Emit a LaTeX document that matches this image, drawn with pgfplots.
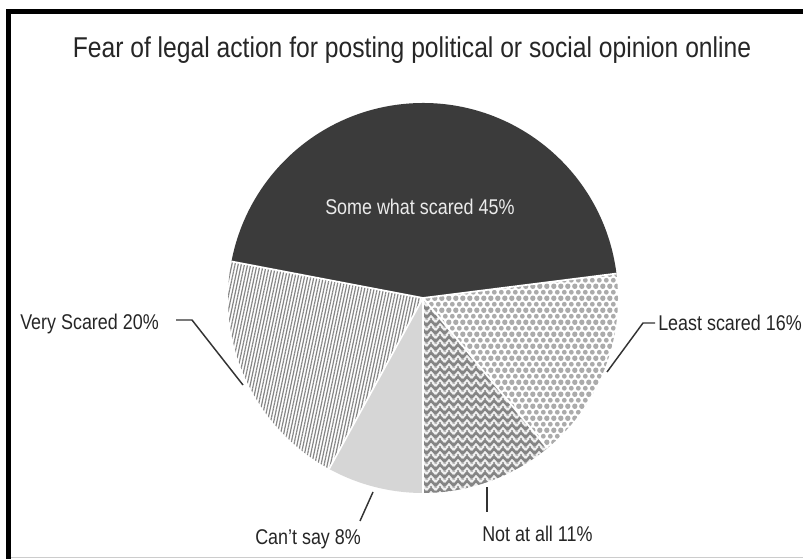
\documentclass[border=0pt]{standalone}
\usepackage{pgfplots}
\pgfplotsset{compat=1.18}
\usepackage{pgfplotstable}
\usetikzlibrary{patterns,patterns.meta}
\usepackage{fontspec}
\setmainfont{Liberation Sans}[FakeStretch=0.84]
\newfontfamily\titlefont{Liberation Sans}[FakeStretch=0.86]

\definecolor{darkslice}{HTML}{3B3B3B}
\definecolor{cantsay}{HTML}{D6D6D6}
\definecolor{hatchc}{HTML}{858585}
\definecolor{zigc}{HTML}{858585}
\definecolor{dotc}{HTML}{ABABAB}
\definecolor{txt}{HTML}{262626}
\definecolor{leader}{HTML}{333333}

\pgfdeclarepattern{
  name=hexdots, type=uncolored,
  bottom left={\pgfpointorigin}, top right={\pgfpoint{5.1pt}{8.8pt}},
  tile size={\pgfpoint{5.1pt}{8.8pt}},
  code={
    \pgfpathcircle{\pgfpointorigin}{1.85pt}
    \pgfpathcircle{\pgfpoint{5.1pt}{0pt}}{1.85pt}
    \pgfpathcircle{\pgfpoint{0pt}{8.8pt}}{1.85pt}
    \pgfpathcircle{\pgfpoint{5.1pt}{8.8pt}}{1.85pt}
    \pgfpathcircle{\pgfpoint{2.55pt}{4.4pt}}{1.85pt}
    \pgfusepath{fill}
  }
}
\pgfdeclarepattern{
  name=zigzag, type=uncolored,
  bottom left={\pgfpointorigin}, top right={\pgfpoint{6.4pt}{6pt}},
  tile size={\pgfpoint{6.4pt}{6pt}},
  code={
    \pgfsetlinewidth{2.1pt}
    \pgfsetmiterjoin
    \pgfpathmoveto{\pgfpoint{-3.2pt}{5.35pt}}
    \pgfpathlineto{\pgfpoint{0pt}{1.6pt}}
    \pgfpathlineto{\pgfpoint{3.2pt}{5.35pt}}
    \pgfpathlineto{\pgfpoint{6.4pt}{1.6pt}}
    \pgfpathlineto{\pgfpoint{9.6pt}{5.35pt}}
    \pgfpathmoveto{\pgfpoint{-3.2pt}{-0.65pt}}
    \pgfpathlineto{\pgfpoint{0pt}{-4.4pt}}
    \pgfpathlineto{\pgfpoint{3.2pt}{-0.65pt}}
    \pgfpathlineto{\pgfpoint{6.4pt}{-4.4pt}}
    \pgfpathlineto{\pgfpoint{9.6pt}{-0.65pt}}
    \pgfpathmoveto{\pgfpoint{-3.2pt}{11.35pt}}
    \pgfpathlineto{\pgfpoint{0pt}{7.6pt}}
    \pgfpathlineto{\pgfpoint{3.2pt}{11.35pt}}
    \pgfpathlineto{\pgfpoint{6.4pt}{7.6pt}}
    \pgfpathlineto{\pgfpoint{9.6pt}{11.35pt}}
    \pgfusepath{stroke}
  }
}

% values in percent, counter-clockwise from the start angle
\pgfplotstableread{
label    value
somewhat 45
very     20
cantsay  8
notatall 11
least    16
}\piedata

\pgfplotstablegetelem{0}{value}\of\piedata \edef\vA{\pgfplotsretval}
\pgfplotstablegetelem{1}{value}\of\piedata \edef\vB{\pgfplotsretval}
\pgfplotstablegetelem{2}{value}\of\piedata \edef\vC{\pgfplotsretval}
\pgfplotstablegetelem{3}{value}\of\piedata \edef\vD{\pgfplotsretval}
\pgfplotstablegetelem{4}{value}\of\piedata \edef\vE{\pgfplotsretval}
\pgfmathsetmacro\aA{7.2}
\pgfmathsetmacro\aB{\aA+3.6*\vA}
\pgfmathsetmacro\aC{\aB+3.6*\vB}
\pgfmathsetmacro\aD{\aC+3.6*\vC}
\pgfmathsetmacro\aE{\aD+3.6*\vD}
\pgfmathsetmacro\aF{\aE+3.6*\vE}
\def\R{146.25pt}

\begin{document}
\begin{tikzpicture}
\begin{axis}[hide axis, scale only axis, width=602.25pt, height=419.25pt,
  xmin=0, xmax=803, ymin=0, ymax=559, y dir=reverse, clip=false]
  \fill[white] (axis cs:0,0) rectangle (axis cs:803,559);
  % frame
  \fill[black] (axis cs:6,9) rectangle (axis cs:11,559);
  \fill[black] (axis cs:6,9) rectangle (axis cs:803,14);
  \draw[black!20, line width=0.75pt] (axis cs:11,557) -- (axis cs:803,557);
  % wedges
  \fill[darkslice] (axis cs:423,298) -- ++(\aA:\R) arc[start angle=\aA, end angle=\aB, radius=\R] -- cycle;
  \fill[white] (axis cs:423,298) -- ++(\aB:\R) arc[start angle=\aB, end angle=\aC, radius=\R] -- cycle;
  \fill[pattern={Lines[angle=78, distance=2.3pt, line width=0.9pt]}, pattern color=hatchc] (axis cs:423,298) -- ++(\aB:\R) arc[start angle=\aB, end angle=\aC, radius=\R] -- cycle;
  \fill[cantsay] (axis cs:423,298) -- ++(\aC:\R) arc[start angle=\aC, end angle=\aD, radius=\R] -- cycle;
  \fill[white!94!black] (axis cs:423,298) -- ++(\aD:\R) arc[start angle=\aD, end angle=\aE, radius=\R] -- cycle;
  \fill[pattern=zigzag, pattern color=zigc] (axis cs:423,298) -- ++(\aD:\R) arc[start angle=\aD, end angle=\aE, radius=\R] -- cycle;
  \fill[white] (axis cs:423,298) -- ++(\aE:\R) arc[start angle=\aE, end angle=\aF, radius=\R] -- cycle;
  \fill[pattern=hexdots, pattern color=dotc] (axis cs:423,298) -- ++(\aE:\R) arc[start angle=\aE, end angle=\aF, radius=\R] -- cycle;
  % separators
  \draw[white, line width=1.3pt] (axis cs:423,298) -- ++(\aA:\R);
  \draw[white, line width=1.3pt] (axis cs:423,298) -- ++(\aB:\R);
  \draw[white, line width=1.3pt] (axis cs:423,298) -- ++(\aC:\R);
  \draw[white, line width=1.3pt] (axis cs:423,298) -- ++(\aD:\R);
  \draw[white, line width=1.3pt] (axis cs:423,298) -- ++(\aE:\R);
  % leader lines
  \draw[leader, line width=1.1pt] (axis cs:176,320) -- (axis cs:192,320) -- (axis cs:243,385);
  \draw[leader, line width=1.1pt] (axis cs:607,372) -- (axis cs:643,323) -- (axis cs:655,323);
  \draw[leader, line width=1.1pt] (axis cs:487,487) -- (axis cs:487,512);
  \draw[leader, line width=1.1pt] (axis cs:373,492) -- (axis cs:360,521);
  % texts
  \node[anchor=base, text=txt, font=\titlefont\fontsize{21.5pt}{24pt}\selectfont, inner sep=0pt] at (axis cs:412,58) {Fear of legal action for posting political or social opinion online};
  \node[anchor=base west, text=white!92!black, font=\fontsize{16pt}{18pt}\selectfont, inner sep=0pt] at (axis cs:325,215) {Some what scared 45\%};
  \node[anchor=base west, text=txt, font=\fontsize{16pt}{18pt}\selectfont, inner sep=0pt] at (axis cs:20,330) {Very Scared 20\%};
  \node[anchor=base west, text=txt, font=\fontsize{16pt}{18pt}\selectfont, inner sep=0pt] at (axis cs:658,331) {Least scared 16\%};
  \node[anchor=base west, text=txt, font=\fontsize{16pt}{18pt}\selectfont, inner sep=0pt] at (axis cs:255,544) {Can't say 8\%};
  \node[anchor=base west, text=txt, font=\fontsize{16pt}{18pt}\selectfont, inner sep=0pt] at (axis cs:482,541) {Not at all 11\%};
\end{axis}
\pgfresetboundingbox
\path[use as bounding box] (0,0) rectangle (602.25pt,419.25pt);
\end{tikzpicture}
\end{document}
